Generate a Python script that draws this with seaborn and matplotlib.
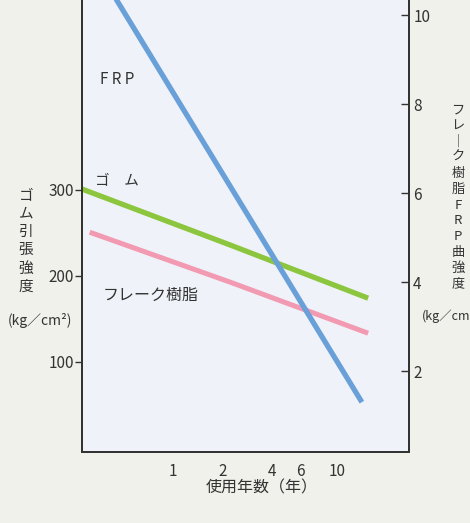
import matplotlib
matplotlib.use("Agg")
import matplotlib.pyplot as plt
import matplotlib.ticker as mticker
import seaborn as sns
import pandas as pd

# ── Data ──────────────────────────────────────────────────────────────────────
rubber_years = [0.28, 2.23, 15.5]
rubber_strength = [301, 236, 174]               # left axis, kg/cm2

flake_years = [0.312, 2.23, 15.5]
flake_strength = [5.12, 4.00, 2.85]             # right axis

frp_years = [0.40, 14.2]
frp_strength = [10.68, 1.30]                    # right axis

x_ticks = [1, 2, 4, 6, 10]
left_ticks = [100, 200, 300]
right_ticks = [2, 4, 6, 8, 10]

BG_FIG = "#f0f1eb"
BG_AX = "#eff2f8"
GREEN = "#8cc63f"
PINK = "#f29ab2"
BLUE = "#6aa0d8"
INK = "#333333"

sns.set_theme(style="white")
plt.rcParams["font.family"] = ["Noto Sans CJK JP", "DejaVu Sans"]

fig = plt.figure(figsize=(4.70, 5.23), dpi=100, facecolor=BG_FIG)
ax = fig.add_axes([82 / 470, 71 / 523, 327 / 470, 452 / 523])
ax.set_facecolor(BG_AX)
ax2 = ax.twinx()

rubber = pd.DataFrame({"year": rubber_years, "val": rubber_strength})
flake = pd.DataFrame({"year": flake_years, "val": flake_strength})
frp = pd.DataFrame({"year": frp_years, "val": frp_strength})

sns.lineplot(data=rubber, x="year", y="val", ax=ax, color=GREEN, linewidth=3.8,
             solid_capstyle="butt")
sns.lineplot(data=flake, x="year", y="val", ax=ax2, color=PINK, linewidth=3.6,
             solid_capstyle="butt")
sns.lineplot(data=frp, x="year", y="val", ax=ax2, color=BLUE, linewidth=3.8,
             solid_capstyle="butt")

ax.set_xscale("log")
ax.set_xlim(0.28, 27.5)
ax.set_ylim(-5, 521)
ax2.set_ylim(0.18, 10.34)

ax.set_xticks(x_ticks)
ax.set_xticklabels([str(t) for t in x_ticks])
ax.xaxis.set_minor_locator(mticker.NullLocator())
ax.set_yticks(left_ticks)
ax2.set_yticks(right_ticks)

ax.set_xlabel("")
ax.set_ylabel("")
ax2.set_ylabel("")

for a in (ax, ax2):
    for side in ("left", "bottom", "right"):
        a.spines[side].set_visible(True)
        a.spines[side].set_color(INK)
        a.spines[side].set_linewidth(1.4)
    a.spines["top"].set_visible(False)

ax.tick_params(axis="x", direction="in", length=6, width=1, color=INK,
               labelsize=11, labelcolor=INK, pad=8)
ax.tick_params(axis="y", direction="out", length=5, width=1, color=INK,
               labelsize=11, labelcolor=INK, pad=1)
ax2.tick_params(axis="y", direction="in", length=6, width=1, color=INK,
                labelsize=11, labelcolor=INK, pad=3)

# series labels
fig.text(100 / 470, 1 - 80 / 523, "F R P", fontsize=11, color=INK,
         va="center", ha="left")
fig.text(95 / 470, 1 - 180 / 523, "ゴ　ム", fontsize=10.5, color=INK,
         va="center", ha="left")
fig.text(103 / 470, 1 - 295 / 523, "フレーク樹脂", fontsize=11.5, color=INK,
         va="center", ha="left")

# axis titles
fig.text(26 / 470, 1 - 241 / 523, "\n".join("ゴム引張強度"), fontsize=10.5,
         color=INK, ha="center", va="center", linespacing=1.4)
fig.text(40 / 470, 1 - 321 / 523, "(kg／cm²)", fontsize=10, color=INK,
         ha="center", va="center")
fig.text(458 / 470, 1 - 197 / 523, "\n".join("フレ｜ク樹脂FRP曲強度"), fontsize=9.5,
         color=INK, ha="center", va="center", linespacing=1.28)
fig.text(422 / 470, 1 - 316 / 523, "(kg／cm²)", fontsize=9, color=INK,
         ha="left", va="center")
fig.text(262 / 470, 1 - 488 / 523, "使用年数（年）", fontsize=11.5, color=INK,
         ha="center", va="center")

fig.savefig("out.png", dpi=100, facecolor=BG_FIG)
